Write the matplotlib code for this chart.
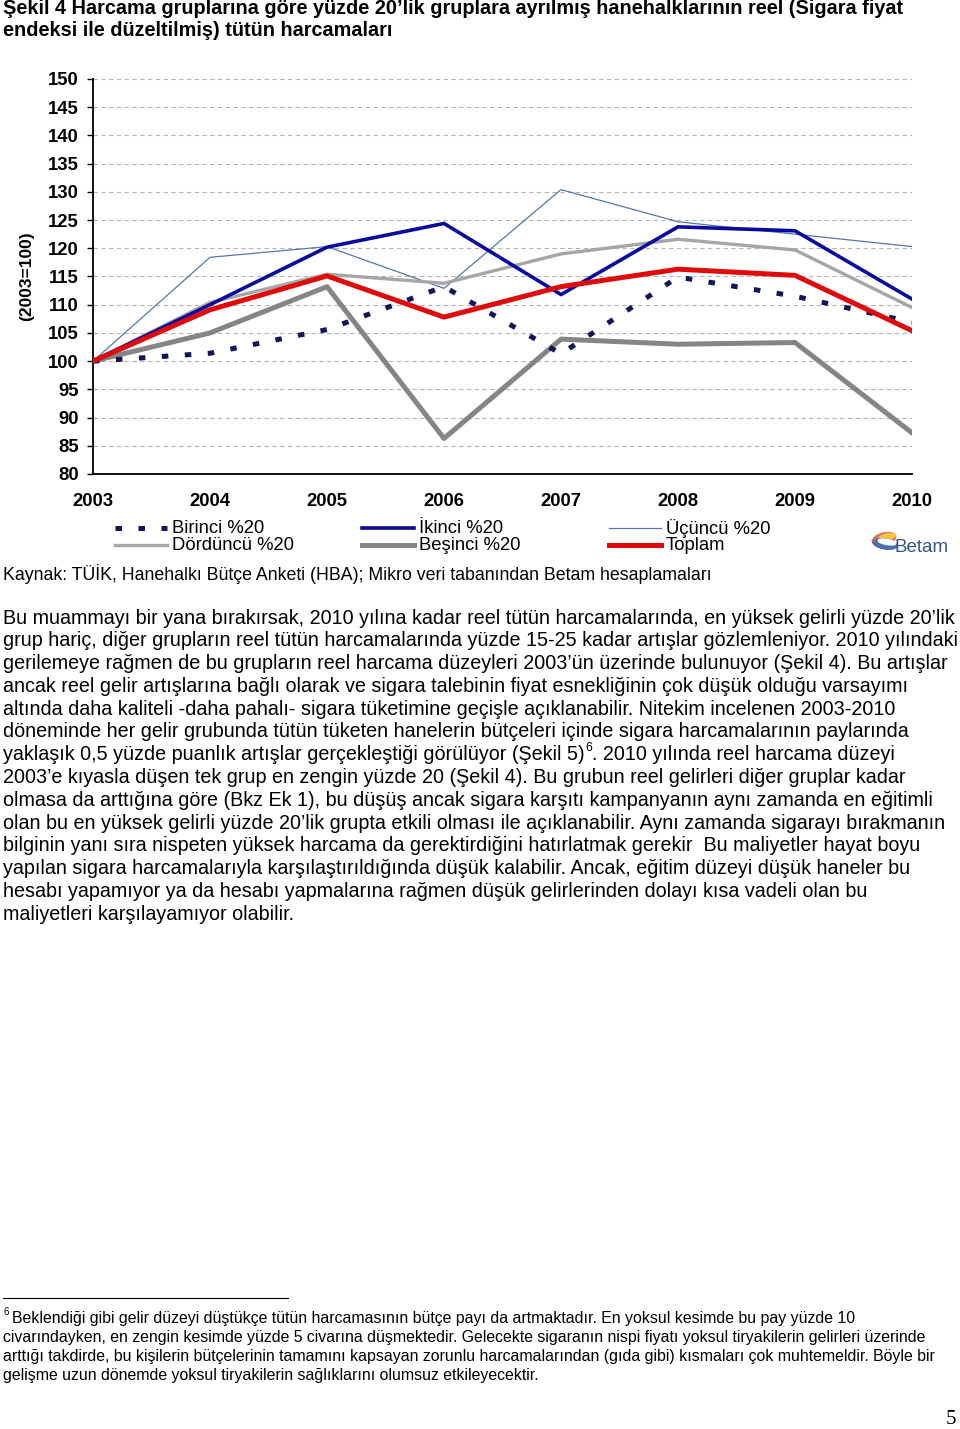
import matplotlib
matplotlib.use("Agg")
import matplotlib.pyplot as plt
from matplotlib.lines import Line2D
from matplotlib.patches import Ellipse

W, H = 960, 1429

# --- data ---
years = [2003, 2004, 2005, 2006, 2007, 2008, 2009, 2010]
birinci = [100, 101.4, 105.6, 113.2, 101.3, 114.9, 111.5, 106.9]
ikinci = [100, 110.0, 120.2, 124.4, 111.8, 123.8, 123.1, 111.0]
ucuncu = [100, 118.4, 120.3, 112.9, 130.4, 124.7, 122.5, 120.3]
dorduncu = [100, 110.4, 115.4, 113.8, 119.0, 121.6, 119.7, 109.5]
besinci = [100, 105.0, 113.2, 86.3, 103.9, 103.0, 103.3, 87.3]
toplam = [100, 109.1, 115.1, 107.8, 113.2, 116.3, 115.2, 105.4]

labels = ["Birinci %20", "İkinci %20", "Üçüncü %20",
          "Dördüncü %20", "Beşinci %20", "Toplam"]
yticks = list(range(80, 155, 5))

title_lines = [
    "Şekil 4 Harcama gruplarına göre yüzde 20’lik gruplara ayrılmış hanehalklarının reel (Sigara fiyat",
    "endeksi ile düzeltilmiş) tütün harcamaları",
]
source = "Kaynak: TÜİK, Hanehalkı Bütçe Anketi (HBA); Mikro veri tabanından Betam hesaplamaları"
body = [
    "Bu muammayı bir yana bırakırsak, 2010 yılına kadar reel tütün harcamalarında, en yüksek gelirli yüzde 20’lik",
    "grup hariç, diğer grupların reel tütün harcamalarında yüzde 15-25 kadar artışlar gözlemleniyor. 2010 yılındaki",
    "gerilemeye rağmen de bu grupların reel harcama düzeyleri 2003’ün üzerinde bulunuyor (Şekil 4). Bu artışlar",
    "ancak reel gelir artışlarına bağlı olarak ve sigara talebinin fiyat esnekliğinin çok düşük olduğu varsayımı",
    "altında daha kaliteli -daha pahalı- sigara tüketimine geçişle açıklanabilir. Nitekim incelenen 2003-2010",
    "döneminde her gelir grubunda tütün tüketen hanelerin bütçeleri içinde sigara harcamalarının paylarında",
    ("yaklaşık 0,5 yüzde puanlık artışlar gerçekleştiği görülüyor (Şekil 5)", "6",
     ". 2010 yılında reel harcama düzeyi"),
    "2003’e kıyasla düşen tek grup en zengin yüzde 20 (Şekil 4). Bu grubun reel gelirleri diğer gruplar kadar",
    "olmasa da arttığına göre (Bkz Ek 1), bu düşüş ancak sigara karşıtı kampanyanın aynı zamanda en eğitimli",
    "olan bu en yüksek gelirli yüzde 20’lik grupta etkili olması ile açıklanabilir. Aynı zamanda sigarayı bırakmanın",
    "bilginin yanı sıra nispeten yüksek harcama da gerektirdiğini hatırlatmak gerekir  Bu maliyetler hayat boyu",
    "yapılan sigara harcamalarıyla karşılaştırıldığında düşük kalabilir. Ancak, eğitim düzeyi düşük haneler bu",
    "hesabı yapamıyor ya da hesabı yapmalarına rağmen düşük gelirlerinden dolayı kısa vadeli olan bu",
    "maliyetleri karşılayamıyor olabilir.",
]
footnote = [
    "Beklendiği gibi gelir düzeyi düştükçe tütün harcamasının bütçe payı da artmaktadır. En yoksul kesimde bu pay yüzde 10",
    "civarındayken, en zengin kesimde yüzde 5 civarına düşmektedir. Gelecekte sigaranın nispi fiyatı yoksul tiryakilerin gelirleri üzerinde",
    "arttığı takdirde, bu kişilerin bütçelerinin tamamını kapsayan zorunlu harcamalarından (gıda gibi) kısmaları çok muhtemeldir. Böyle bir",
    "gelişme uzun dönemde yoksul tiryakilerin sağlıklarını olumsuz etkileyecektir.",
]

SANS = ["Liberation Sans", "DejaVu Sans"]
plt.rcParams["font.family"] = SANS

fig = plt.figure(figsize=(W / 100, H / 100), dpi=100)
fig.patch.set_facecolor("white")
renderer = fig.canvas.get_renderer()


def fx(x):
    return x / W


def fy(y):
    return 1 - y / H


def fit(s, target, **kw):
    t = fig.text(0, 0, s, fontsize=12, **kw)
    w = t.get_window_extent(renderer).width
    t.remove()
    return 12 * target / w


# --- chart ---
ax = fig.add_axes([fx(93), fy(474), fx(912 - 93), (474 - 79) / H])
styles = [
    dict(color="#14145a", lw=3.6, linestyle=(0, (1.3, 3.3)), dash_capstyle="butt"),
    dict(color="#0a0aa0", lw=2.6),
    dict(color="#5577aa", lw=0.9),
    dict(color="#a6a6a6", lw=2.4),
    dict(color="#858585", lw=3.6),
    dict(color="#e00a0a", lw=3.6),
]
series = [birinci, ikinci, ucuncu, dorduncu, besinci, toplam]
order = [2, 3, 4, 0, 1, 5]
for i in order:
    ax.plot(years, series[i], zorder=3 + order.index(i), **styles[i])

ax.set_xlim(2003, 2010)
ax.set_ylim(80, 150)
ax.set_yticks(yticks)
ax.set_xticks(years)
for y in yticks[1:]:
    ax.axhline(y, color="#b5b5b5", lw=0.8, dashes=(4, 3), zorder=1)
for s in ["top", "right"]:
    ax.spines[s].set_visible(False)
ax.spines["left"].set_linewidth(1.3)
ax.spines["bottom"].set_linewidth(1.3)
ax.tick_params(axis="y", length=4, width=1, pad=6, labelsize=13.3)
ax.tick_params(axis="x", length=0, pad=14, labelsize=13.3)
for lab in ax.get_xticklabels() + ax.get_yticklabels():
    lab.set_fontweight("bold")
ax.set_ylabel("(2003=100)", fontsize=12.5, fontweight="bold")
ax.yaxis.set_label_coords(-0.072, 0.5)

# legend, drawn as rows under the chart
leg_size = fit(labels[0], 93)
for k, lab in enumerate(labels):
    col, row = k % 3, k // 3
    x0 = 115 + col * 247
    yy = 528 + row * 17
    fig.add_artist(Line2D([fx(x0), fx(x0 + 52)], [fy(yy), fy(yy)],
                          transform=fig.transFigure, **styles[k]))
    fig.text(fx(x0 + 57), fy(yy), lab, fontsize=leg_size, va="center", ha="left")

# Betam logo
lax = fig.add_axes([fx(870), fy(558), fx(82), 32 / H])
lax.set_xlim(0, 82)
lax.set_ylim(0, 32)
lax.axis("off")
lax.add_patch(Ellipse((14, 19), 24, 12, angle=15, color="#e07060"))
lax.add_patch(Ellipse((17, 21), 18, 6, angle=15, color="#f2c840"))
lax.add_patch(Ellipse((15, 14), 24, 10, angle=-10, color="#4a6fb0"))
lax.add_patch(Ellipse((17, 16), 18, 5, angle=-10, color="white"))
lax.text(25, 11, "Betam", fontsize=13.5, color="#34558a", va="center", ha="left")

# --- texts ---
tsize = fit(title_lines[0], 894, fontweight="bold")
for i, s in enumerate(title_lines):
    fig.text(fx(3), fy(8 + i * 22.5), s, fontsize=tsize, fontweight="bold",
             va="center", ha="left")

fig.text(fx(3), fy(574), source, fontsize=fit(source, 713), va="center", ha="left")

bsize = fit(body[0], 952)
for i, s in enumerate(body):
    yy = fy(618 + i * 22.78)
    if isinstance(s, tuple):
        t = fig.text(fx(3), yy, s[0], fontsize=bsize, va="center", ha="left")
        x1 = t.get_window_extent(renderer).x1
        t2 = fig.text(x1 / W + 0.0005, yy + 7 / H, s[1], fontsize=bsize * 0.62,
                      va="center", ha="left")
        x2 = t2.get_window_extent(renderer).x1
        fig.text(x2 / W, yy, s[2], fontsize=bsize, va="center", ha="left")
    else:
        fig.text(fx(3), yy, s, fontsize=bsize, va="center", ha="left")

# footnote
fig.add_artist(Line2D([fx(3), fx(288)], [fy(1298), fy(1298)],
                      transform=fig.transFigure, color="black", lw=0.8))
fsize = fit(footnote[0], 841)
fig.text(fx(3), fy(1312), "6", fontsize=fsize * 0.62, va="center", ha="left")
for i, s in enumerate(footnote):
    x0 = 12 if i == 0 else 3
    fig.text(fx(x0), fy(1319 + i * 18.7), s, fontsize=fsize, va="center", ha="left")

fig.text(fx(951), fy(1419), "5", fontsize=15, family=["Liberation Serif", "DejaVu Serif"],
         va="center", ha="center")

fig.savefig("out.png", dpi=100)
